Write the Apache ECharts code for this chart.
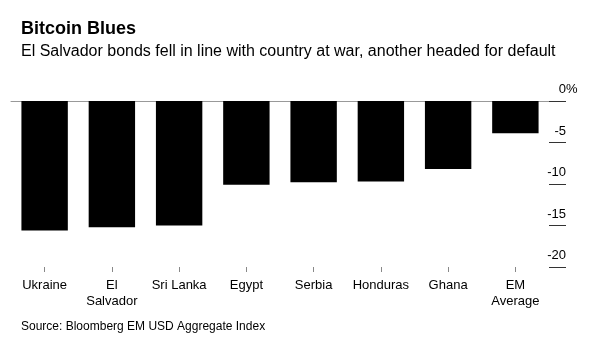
<!DOCTYPE html>
<html>
<head>
<meta charset="utf-8">
<script src="https://cdn.jsdelivr.net/npm/echarts@6/dist/echarts.min.js"></script>
<style>
html,body{margin:0;padding:0;background:#fff;}
#chart{width:597px;height:348px;}
</style>
</head>
<body>
<div id="chart"></div>
<script>
var categories = ['Ukraine', 'El\nSalvador', 'Sri Lanka', 'Egypt', 'Serbia', 'Honduras', 'Ghana', 'EM\nAverage'];
var values = [-15.6, -15.2, -15.0, -10.1, -9.8, -9.7, -8.2, -3.9];
var yTicks = [0, -5, -10, -15, -20];

var FONT = '"Liberation Sans", Arial, sans-serif';
var chart = echarts.init(document.getElementById('chart'), null, {renderer: 'canvas'});
chart.setOption({
  animation: false,
  backgroundColor: '#ffffff',
  title: [
    {text: 'Bitcoin Blues', left: 21, top: 20, padding: 0,
     textStyle: {fontFamily: FONT, fontSize: 18, fontWeight: 'bold', color: '#000'}},
    {text: 'El Salvador bonds fell in line with country at war, another headed for default', left: 21, top: 43.5, padding: 0,
     textStyle: {fontFamily: FONT, fontSize: 16, fontWeight: 'normal', color: '#000'}},
    {text: 'Source: Bloomberg EM USD Aggregate Index', left: 21, top: 320.5, padding: 0,
     textStyle: {fontFamily: FONT, fontSize: 12, fontWeight: 'normal', color: '#000'}}
  ],
  grid: {left: 11, right: 48, top: 101, bottom: 81, containLabel: false},
  xAxis: [{
    type: 'category',
    data: categories,
    position: 'bottom',
    axisLine: {show: false, onZero: false},
    axisTick: {show: true, alignWithLabel: true, length: 5, lineStyle: {color: '#888', width: 1}},
    axisLabel: {fontFamily: FONT, fontSize: 13, color: '#000', margin: 10, lineHeight: 16.5, interval: 0}
  }, {
    type: 'category',
    data: categories,
    position: 'top',
    axisLine: {show: true, lineStyle: {color: '#999', width: 1}},
    axisTick: {show: false},
    axisLabel: {show: false}
  }],
  yAxis: [{
    type: 'value',
    position: 'right',
    min: -20, max: 0, interval: 5,
    splitLine: {show: false},
    axisLine: {show: false},
    axisTick: {show: true, length: 17, lineStyle: {color: '#333', width: 1}},
    axisLabel: {
      showMinLabel: true, showMaxLabel: true, hideOverlap: false,
      fontFamily: FONT, fontSize: 13, color: '#000', align: 'right', margin: 17,
      padding: [0, 0, 23, 0],
      formatter: function (v) {
        return yTicks.indexOf(v) < 0 ? '' : '{a|' + v + '}';
      },
      rich: {a: {fontFamily: FONT, fontSize: 13, color: '#000'}}
    }
  }, {
    type: 'value',
    position: 'right',
    min: -20, max: 0, interval: 5,
    splitLine: {show: false},
    axisLine: {show: false},
    axisTick: {show: false},
    axisLabel: {
      showMinLabel: true, showMaxLabel: true, hideOverlap: false,
      fontFamily: FONT, fontSize: 13, color: '#000', align: 'left', margin: 17,
      padding: [0, 0, 23, 0],
      formatter: function (v) { return v === 0 ? '{a|%}' : ''; },
      rich: {a: {fontFamily: FONT, fontSize: 13, color: '#000'}}
    }
  }],
  series: [{
    type: 'bar',
    data: values,
    barCategoryGap: '31%',
    itemStyle: {color: '#000'}
  }]
});
</script>
</body>
</html>
